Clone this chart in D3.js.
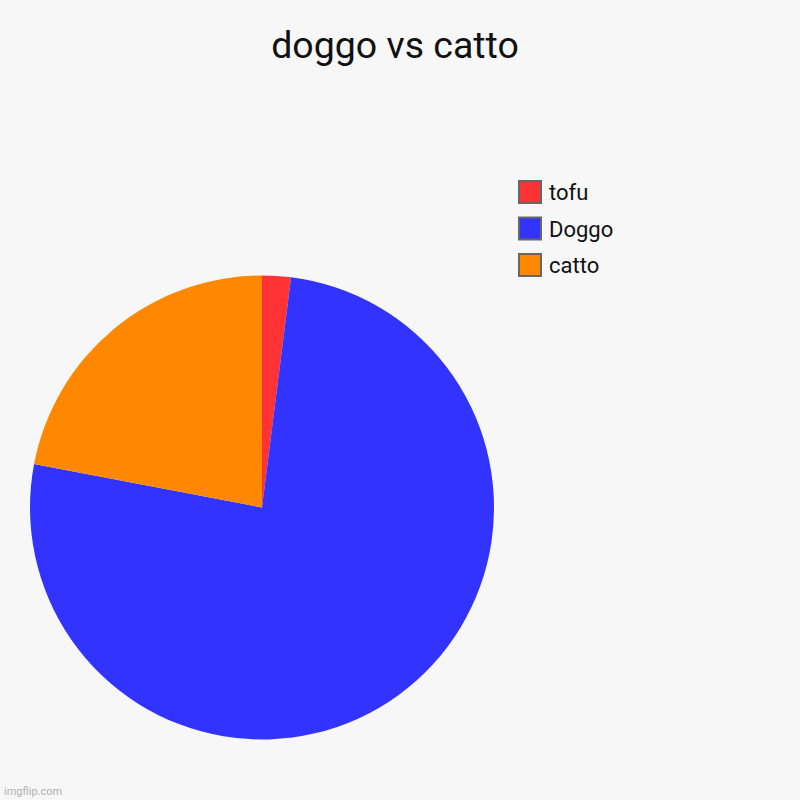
<!DOCTYPE html>
<html>
<head>
<meta charset="utf-8">
<script src="https://cdn.jsdelivr.net/npm/d3@7"></script>
<style>
  body { margin: 0; background: #f7f7f7; }
  text { font-family: Roboto, "Open Sans", sans-serif; }
</style>
</head>
<body>
<div id="chart"></div>
<script>
var svgWidth = 800;
var svgHeight = 800;

// chart data
var labels = ["tofu", "Doggo", "catto"];
var values = [2, 76, 22];
var colors = ["#ff3333", "#3333ff", "#ff8800"];

var svg = d3.select("#chart")
  .append("svg")
  .attr("width", svgWidth)
  .attr("height", svgHeight);

svg.append("rect")
  .attr("width", svgWidth)
  .attr("height", svgHeight)
  .attr("fill", "#f7f7f7");

// title
svg.append("text")
  .attr("x", 395)
  .attr("y", 58)
  .attr("text-anchor", "middle")
  .attr("font-size", 37.5)
  .attr("fill", "#111")
  .text("doggo vs catto");

// pie
var radius = 232;
var pieGroup = svg.append("g")
  .attr("transform", "translate(262, 507.5)");

var pie = d3.pie()
  .sort(null)
  .value(d => d);

var arc = d3.arc()
  .innerRadius(0)
  .outerRadius(radius);

pieGroup.selectAll("path")
  .data(pie(values))
  .enter()
  .append("path")
  .attr("d", arc)
  .attr("fill", (d, i) => colors[i]);

// legend
var legend = svg.append("g")
  .attr("transform", "translate(519, 181)");

var item = legend.selectAll("g")
  .data(labels)
  .enter()
  .append("g")
  .attr("transform", (d, i) => `translate(0, ${i * 36.5})`);

item.append("rect")
  .attr("width", 22)
  .attr("height", 22)
  .attr("fill", (d, i) => colors[i])
  .attr("stroke", "#666")
  .attr("stroke-width", 2);

item.append("text")
  .attr("x", 30)
  .attr("y", 19)
  .attr("font-size", 22)
  .attr("fill", "#111")
  .text(d => d);

// watermark
svg.append("text")
  .attr("x", 4)
  .attr("y", 795)
  .attr("font-size", 11)
  .attr("fill", "#b0b0b0")
  .text("imgflip.com");
</script>
</body>
</html>
